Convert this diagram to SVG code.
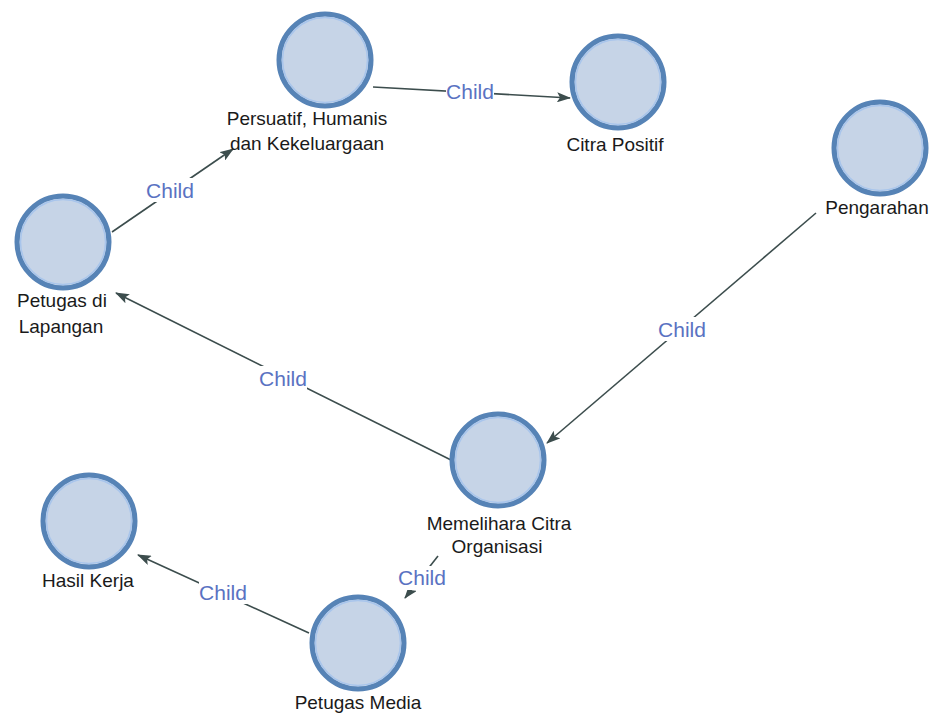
<svg xmlns="http://www.w3.org/2000/svg" width="940" height="715" viewBox="0 0 940 715">
<style>
.node circle.o{fill:#c6d4e7;stroke:#5683b6;stroke-width:5}
.node circle.i{fill:none;stroke:#a8c5ec;stroke-width:1.5}
.node text{font-family:"Liberation Sans",Arial,sans-serif;font-size:19px;fill:#1a1a1a;text-anchor:middle}
.edge line{stroke:#3c4d4d;stroke-width:1.6;marker-end:url(#arr)}
.edge rect{fill:#ffffff}
.edge text{font-family:"Liberation Sans",Arial,sans-serif;font-size:21px;fill:#5a72c2;text-anchor:middle}
</style>
<defs>
<marker id="arr" viewBox="0 0 14 10" refX="13" refY="5" markerWidth="14" markerHeight="10" markerUnits="userSpaceOnUse" orient="auto">
<path d="M0,0 L14,5 L0,10 L3,5 z" fill="#3c4d4d"/>
</marker>
</defs>
<rect width="940" height="715" fill="#ffffff"/>
<g id="connectors">
<g class="edge"><line x1="112" y1="232" x2="233" y2="149"/><rect x="146" y="178" width="48" height="24"/><text x="170" y="198">Child</text></g>
<g class="edge"><line x1="373" y1="87" x2="570" y2="98"/><rect x="446" y="79" width="48" height="24"/><text x="470" y="99">Child</text></g>
<g class="edge"><line x1="816" y1="213" x2="547" y2="443"/><rect x="658" y="317" width="48" height="24"/><text x="682" y="337">Child</text></g>
<g class="edge"><line x1="451" y1="460" x2="116" y2="293"/><rect x="259" y="366" width="48" height="24"/><text x="283" y="386">Child</text></g>
<g class="edge"><line x1="309" y1="633" x2="138" y2="555"/><rect x="199" y="580" width="48" height="24"/><text x="223" y="600">Child</text></g>
<g class="edge"><line x1="438" y1="556" x2="405" y2="598"/><rect x="398" y="566" width="48" height="24"/><text x="422" y="585">Child</text></g>
</g>
<g id="n-persuatif" class="node"><circle class="o" cx="325" cy="60" r="46"/><circle class="i" cx="325" cy="60" r="42.5"/><text x="307" y="125">Persuatif, Humanis</text><text x="307" y="150">dan Kekeluargaan</text></g>
<g id="n-citra" class="node"><circle class="o" cx="618" cy="82" r="46"/><circle class="i" cx="618" cy="82" r="42.5"/><text x="615" y="151">Citra Positif</text></g>
<g id="n-pengarahan" class="node"><circle class="o" cx="880" cy="148" r="46"/><circle class="i" cx="880" cy="148" r="42.5"/><text x="877" y="214">Pengarahan</text></g>
<g id="n-lapangan" class="node"><circle class="o" cx="63" cy="242" r="46"/><circle class="i" cx="63" cy="242" r="42.5"/><text x="62" y="307">Petugas di</text><text x="61" y="333">Lapangan</text></g>
<g id="n-memelihara" class="node"><circle class="o" cx="498" cy="460" r="46"/><circle class="i" cx="498" cy="460" r="42.5"/><text x="499" y="530">Memelihara Citra</text><text x="497" y="553">Organisasi</text></g>
<g id="n-hasil" class="node"><circle class="o" cx="89" cy="521" r="46"/><circle class="i" cx="89" cy="521" r="42.5"/><text x="88" y="587">Hasil Kerja</text></g>
<g id="n-media" class="node"><circle class="o" cx="358" cy="643" r="46"/><circle class="i" cx="358" cy="643" r="42.5"/><text x="358" y="709">Petugas Media</text></g>
</svg>
